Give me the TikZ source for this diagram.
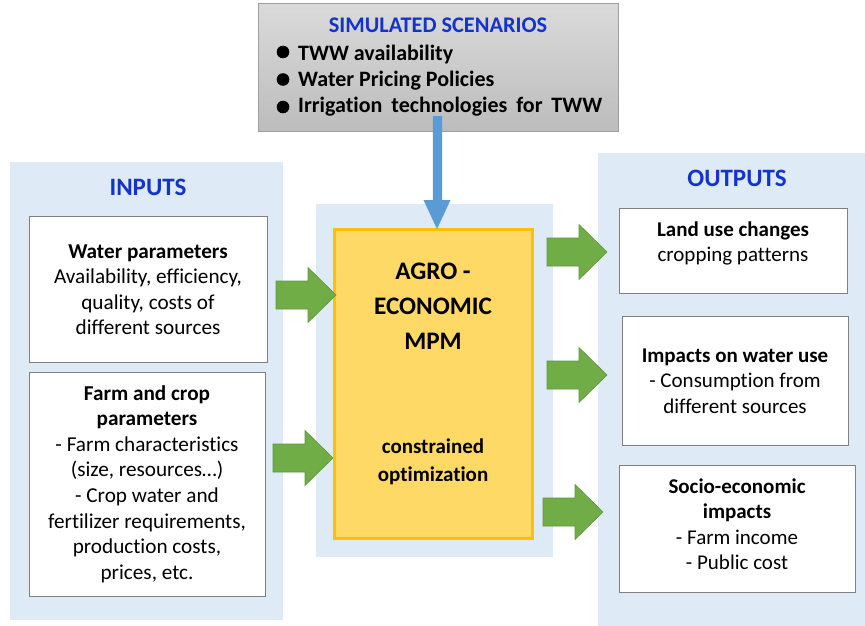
\documentclass[tikz,border=0pt]{standalone}
\usepackage{fontspec}
\setmainfont{Carlito}[Ligatures=CommonOff]
\usetikzlibrary{calc}

\definecolor{panelblue}{RGB}{222,234,246}
\definecolor{titleblue}{RGB}{18,52,204}
\definecolor{arrowgreen}{RGB}{112,173,71}
\definecolor{arrowgreenline}{RGB}{96,150,60}
\definecolor{arrowblue}{RGB}{91,155,213}
\definecolor{mpmfill}{RGB}{255,217,102}
\definecolor{mpmline}{RGB}{255,192,0}
\definecolor{boxline}{RGB}{128,128,128}
\definecolor{scentop}{RGB}{218,218,218}
\definecolor{scenbottom}{RGB}{188,188,188}

% centred lines whose baseline is that of the first line
\newcommand{\stackedlines}[1]{\begin{tabular}[t]{@{}c@{}}#1\end{tabular}}

\tikzset{
  panel/.style={fill=panelblue, draw=none, inner sep=0pt, anchor=north west},
  whitebox/.style={fill=white, draw=boxline, line width=1.3pt, inner sep=0pt, anchor=north west},
  body/.style={font=\fontsize{21.2}{25.5}\selectfont, inner sep=0pt, anchor=base},
  heading/.style={font=\fontsize{25}{30}\selectfont\bfseries, text=titleblue, inner sep=0pt, anchor=base},
  bullettext/.style={font=\fontsize{22}{26}\selectfont\bfseries, inner sep=0pt, anchor=base west},
  greenarrow/.style={fill=arrowgreen, draw=arrowgreenline, line width=0.6pt},
  pics/blockarrow/.style={code={
    \path[greenarrow] (0,-14) -- (32,-14) -- (32,-27.5) -- (60,0)
      -- (32,27.5) -- (32,14) -- (0,14) -- cycle;}},
}

\begin{document}
\begin{tikzpicture}[x=1pt,y=-1pt]
\useasboundingbox (0,0) rectangle (865,626);

% background panels
\node[panel, minimum width=273pt, minimum height=458pt] (inpanel) at (10,162) {};
\node[panel, minimum width=237pt, minimum height=353pt] (midpanel) at (316,204) {};
\node[panel, minimum width=267pt, minimum height=473pt] (outpanel) at (598,153) {};

% scenario box
\node[draw=gray!75, line width=0.8pt, top color=scentop, bottom color=scenbottom,
      minimum width=360pt, minimum height=128pt, inner sep=0pt, anchor=north west] (scen) at (258,3) {};
\node[font=\fontsize{22.3}{26}\selectfont\bfseries, text=titleblue, inner sep=0pt, anchor=base] (scentitle) at (438,33) {SIMULATED SCENARIOS};
\fill (283,52) circle (6.3pt) (283,79.5) circle (6.3pt) (283,107) circle (6.3pt);
\node[bullettext] (sc1) at (298,60) {TWW availability};
\node[bullettext] (sc2) at (298,86.5) {Water Pricing Policies};
\node[bullettext] (sc3) at (298,113) {\makebox[304pt][s]{Irrigation technologies for TWW}};

% headings
\node[heading] (inhead) at (148,195) {INPUTS};
\node[heading] (outhead) at (737,186) {OUTPUTS};

% input boxes
\node[whitebox, minimum width=238pt, minimum height=146pt] (water) at (29,216) {};
\node[body] (watertext) at (148,258) {\stackedlines{\textbf{Water parameters}\\Availability, efficiency,\\quality, costs of\\different sources}};
\node[whitebox, minimum width=236pt, minimum height=224pt] (farm) at (29,372) {};
\node[body, font=\fontsize{21.2}{25.6}\selectfont] (farmtext) at (147,400) {\stackedlines{\textbf{Farm and crop}\\\textbf{parameters}\\- Farm characteristics\\(size, resources\dots)\\- Crop water and\\fertilizer requirements,\\production costs,\\prices, etc.}};

% model box
\node[fill=mpmfill, draw=mpmline, line width=2.5pt, minimum width=198pt, minimum height=309pt,
      inner sep=0pt, anchor=north west] (mpm) at (333,228) {};
\node[font=\fontsize{25.2}{35}\selectfont\bfseries, inner sep=0pt, anchor=base] (mpmtext) at (433,279) {\stackedlines{AGRO -\\ECONOMIC\\MPM}};
\node[font=\fontsize{21}{28}\selectfont\bfseries, inner sep=0pt, anchor=base] (opttext) at (433,453) {\stackedlines{constrained\\optimization}};

% output boxes
\node[whitebox, minimum width=228pt, minimum height=85pt] (land) at (619,208) {};
\node[body, font=\fontsize{21}{25}\selectfont] (landtext) at (733,236) {\stackedlines{\textbf{Land use changes}\\cropping patterns}};
\node[whitebox, minimum width=226pt, minimum height=129pt] (water use) at (622,316) {};
\node[body, font=\fontsize{21}{25.5}\selectfont] (usetext) at (735,362) {\stackedlines{\textbf{Impacts on water use}\\- Consumption from\\different sources}};
\node[whitebox, minimum width=236pt, minimum height=127pt] (socio) at (619,465) {};
\node[body, font=\fontsize{21}{25.3}\selectfont] (sociotext) at (737,493.5) {\stackedlines{\textbf{Socio-economic}\\\textbf{impacts}\\- Farm income\\- Public cost}};

% scenario arrow into the model
\coordinate (bluetop) at (437.5,116);
\coordinate (bluetip) at (437,229);
\path[fill=arrowblue] ($(bluetop)+(-4.7,0)$) -- ($(bluetip)+(-4.2,-29)$) -- ($(bluetip)+(-13.5,-29)$)
  -- (bluetip) -- ($(bluetip)+(13.5,-29)$) -- ($(bluetip)+(5.2,-29)$) -- ($(bluetop)+(4.7,0)$) -- cycle;

% block arrows between inputs, model and outputs
\pic at (276,295) {blockarrow};
\pic at (273,458) {blockarrow};
\pic at (547,252) {blockarrow};
\pic at (547,375) {blockarrow};
\pic at (543,512) {blockarrow};
\end{tikzpicture}
\end{document}
